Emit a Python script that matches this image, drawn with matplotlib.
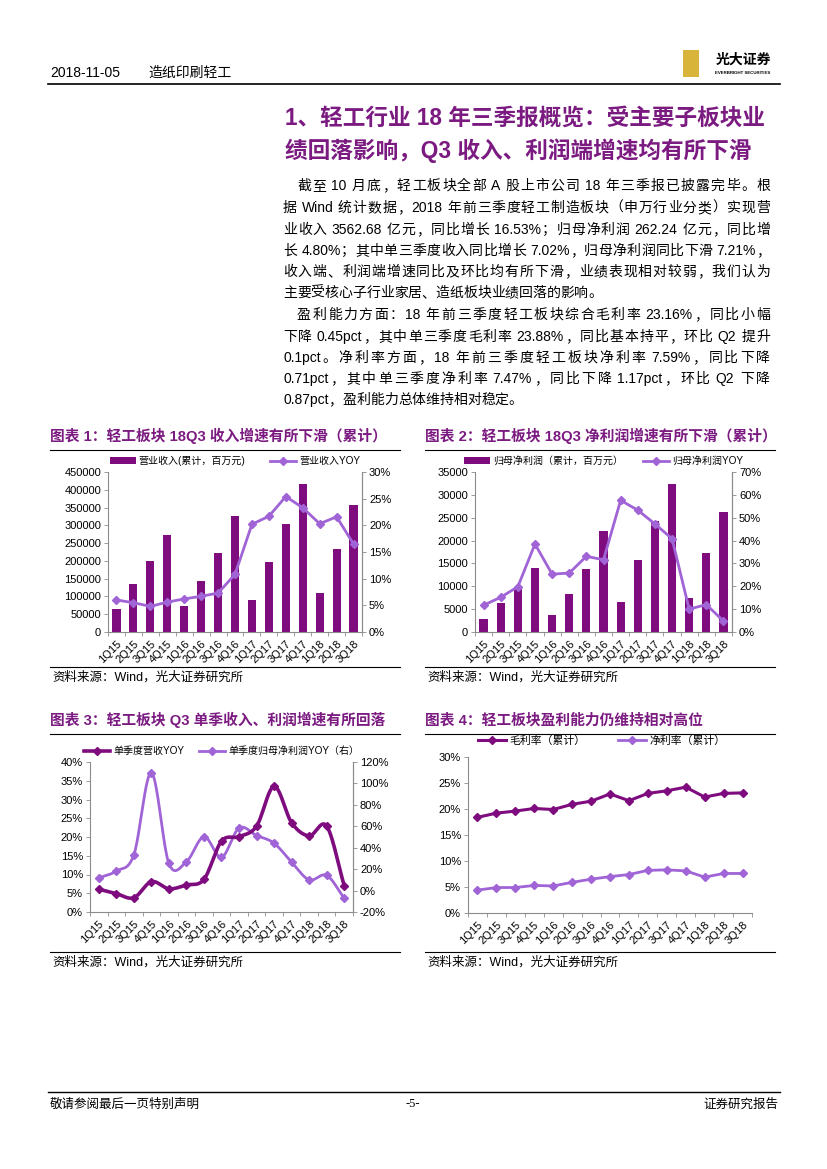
import matplotlib
matplotlib.use('Agg')
import matplotlib.pyplot as plt
import numpy as np
from matplotlib.patches import Rectangle
from matplotlib.lines import Line2D
from matplotlib.ticker import FuncFormatter, MultipleLocator, FixedLocator

plt.rcParams['font.family'] = ['Liberation Sans', 'Noto Sans CJK SC', 'DejaVu Sans']

# ---------------- data ----------------
quarters = ['1Q15', '2Q15', '3Q15', '4Q15', '1Q16', '2Q16', '3Q16', '4Q16',
            '1Q17', '2Q17', '3Q17', '4Q17', '1Q18', '2Q18', '3Q18']

revenue_cum = [65000, 134000, 201000, 274000, 72000, 144000, 221000, 325000,
               91000, 197000, 303000, 415000, 111000, 233000, 356000]
revenue_yoy = [6.0, 5.5, 4.8, 5.6, 6.2, 6.7, 7.3, 10.8,
               20.2, 21.7, 25.4, 23.3, 20.3, 21.6, 16.5]

profit_cum = [2800, 6400, 9600, 13900, 3700, 8300, 13800, 22100,
              6600, 15700, 24300, 32400, 7400, 17300, 26200]
profit_yoy = [11.7, 15.2, 19.8, 38.5, 25.3, 25.8, 33.1, 31.6,
              57.6, 53.3, 47.3, 40.8, 10.0, 12.0, 4.8]

q_rev_yoy = [6.1, 4.9, 3.8, 8.1, 6.2, 7.2, 8.7, 18.9,
             20.1, 22.9, 33.5, 23.8, 20.3, 22.9, 7.0]
q_profit_yoy = [11.8, 18.2, 33.3, 110.0, 25.3, 26.9, 50.3, 31.0,
                58.4, 51.4, 44.2, 26.4, 10.0, 14.2, -7.2]

gross_margin = [18.4, 19.2, 19.6, 20.1, 19.9, 20.9, 21.5, 22.9,
                21.6, 23.0, 23.5, 24.2, 22.3, 23.0, 23.1]
net_margin = [4.4, 4.9, 4.9, 5.3, 5.2, 5.9, 6.5, 7.0,
              7.4, 8.2, 8.3, 8.1, 6.9, 7.6, 7.6]

# ---------------- styles ----------------
W, H = 827, 1169
DARK = '#7E0C7E'
LIGHT = '#A064D6'
TITLE = '#7B1A80'
SPINE = '#8C8C8C'
CJK = ['Noto Sans CJK SC', 'DejaVu Sans']
MIX = ['Liberation Sans', 'Noto Sans CJK SC', 'DejaVu Sans']
TICK = 8

fig = plt.figure(figsize=(W / 100, H / 100), dpi=100)
renderer = fig.canvas.get_renderer()


def fx(x):
    return x / W


def fy(y):
    return 1 - y / H


def txt(x, y, s, **kw):
    kw.setdefault('va', 'center')
    return fig.text(fx(x), fy(y), s, **kw)


def hline(x0, x1, y, lw=0.8, color='black'):
    fig.add_artist(Line2D([fx(x0), fx(x1)], [fy(y), fy(y)], lw=lw, color=color))


def add_ax(x0, y0, x1, y1):
    return fig.add_axes([fx(x0), fy(y1), (x1 - x0) / W, (y1 - y0) / H])


def text_width(s, **kw):
    t = fig.text(0, 0, s, **kw)
    w = t.get_window_extent(renderer).width
    t.remove()
    return w


def tokenize(line):
    toks = []
    cur = ''
    for ch in line:
        if ch == ' ':
            if cur:
                toks.append(cur)
                cur = ''
            toks.append(' ')
        elif ord(ch) < 128:
            cur += ch
        else:
            if cur:
                toks.append(cur)
                cur = ''
            toks.append(ch)
    if cur:
        toks.append(cur)
    return toks


def justified(x0, x1, y, line, justify=True, **kw):
    toks = tokenize(line)
    space_w = text_width('a a', **kw) - text_width('aa', **kw)
    widths = [space_w if t == ' ' else text_width(t, **kw) for t in toks]
    words = [i for i, t in enumerate(toks) if t != ' ']
    total = sum(widths)
    gap = 0.0
    if justify and len(words) > 1:
        gap = (x1 - x0 - total) / (len(words) - 1)
    pos = x0
    for i, (t, w) in enumerate(zip(toks, widths)):
        if t != ' ':
            txt(pos, y, t, ha='left', **kw)
            pos += w + gap
        else:
            pos += w


def style_ax(ax, right=False):
    ax.spines['top'].set_visible(False)
    for s in ['left', 'bottom', 'right']:
        ax.spines[s].set_color(SPINE)
        ax.spines[s].set_linewidth(0.8)
    if not right:
        ax.spines['right'].set_visible(False)
    ax.tick_params(axis='y', direction='out', length=3, width=0.6,
                   color=SPINE, labelsize=TICK, pad=2)
    ax.set_xlim(-0.5, len(quarters) - 0.5)
    ax.set_xticks(range(len(quarters)))
    ax.set_xticklabels(quarters, rotation=45, ha='right', rotation_mode='anchor',
                       fontsize=TICK)
    ax.tick_params(axis='x', which='major', length=0, pad=5)
    ax.xaxis.set_minor_locator(FixedLocator(np.arange(-0.5, len(quarters), 1.0)))
    ax.tick_params(axis='x', which='minor', direction='out', length=3, width=0.6,
                   color=SPINE)


def style_right(axr, lim, step):
    axr.set_ylim(*lim)
    axr.yaxis.set_major_locator(MultipleLocator(step))
    axr.yaxis.set_major_formatter(pct0)
    for s in ['top', 'left', 'bottom']:
        axr.spines[s].set_visible(False)
    axr.spines['right'].set_color(SPINE)
    axr.spines['right'].set_linewidth(0.8)
    axr.tick_params(axis='y', direction='out', length=3, width=0.6, color=SPINE,
                    labelsize=TICK, pad=2)


def catmull(xs, ys, n=24):
    xs = np.asarray(xs, float)
    ys = np.asarray(ys, float)
    P = np.column_stack([xs, ys])
    P = np.vstack([2 * P[0] - P[1], P, 2 * P[-1] - P[-2]])
    out = []
    t = np.linspace(0, 1, n)[:, None]
    for i in range(1, len(P) - 2):
        p0, p1, p2, p3 = P[i - 1], P[i], P[i + 1], P[i + 2]
        seg = 0.5 * ((2 * p1) + (-p0 + p2) * t + (2 * p0 - 5 * p1 + 4 * p2 - p3) * t ** 2
                     + (-p0 + 3 * p1 - 3 * p2 + p3) * t ** 3)
        out.append(seg if i == 1 else seg[1:])
    out = np.vstack(out)
    return out[:, 0], out[:, 1]


pct0 = FuncFormatter(lambda v, p: f'{v:.0f}%')
x = np.arange(len(quarters))

# ---------------- header ----------------
txt(50, 73, '2018-11-05', fontsize=10, family=MIX)
txt(148, 73, '造纸印刷轻工', fontsize=10, family=CJK)
hline(48, 780, 84, lw=1.2)
fig.add_artist(Rectangle((fx(683), fy(77)), 16 / W, 27 / H, transform=fig.transFigure,
                         facecolor='#D9B43A', edgecolor='none'))
txt(743, 60, '光大证券', fontsize=10, family=CJK, weight='bold', ha='center')
txt(743, 73, 'EVERBRIGHT SECURITIES', fontsize=3.2, family=MIX, weight='bold', ha='center')

# ---------------- section title ----------------
txt(285, 118, '1、轻工行业 18 年三季报概览：受主要子板块业', fontsize=16.3,
    family=MIX, weight='bold', color=TITLE)
txt(285, 151, '绩回落影响，Q3 收入、利润端增速均有所下滑', fontsize=16.3,
    family=MIX, weight='bold', color=TITLE)

body = [
    (297, True, '截至 10 月底，轻工板块全部 A 股上市公司 18 年三季报已披露完毕。根'),
    (283, True, '据 Wind 统计数据，2018 年前三季度轻工制造板块（申万行业分类）实现营'),
    (283, True, '业收入 3562.68 亿元，同比增长 16.53%；归母净利润 262.24 亿元，同比增'),
    (283, True, '长 4.80%；其中单三季度收入同比增长 7.02%，归母净利润同比下滑 7.21%，'),
    (283, True, '收入端、利润端增速同比及环比均有所下滑，业绩表现相对较弱，我们认为'),
    (283, False, '主要受核心子行业家居、造纸板块业绩回落的影响。'),
    (297, True, '盈利能力方面：18 年前三季度轻工板块综合毛利率 23.16%，同比小幅'),
    (283, True, '下降 0.45pct，其中单三季度毛利率 23.88%，同比基本持平，环比 Q2 提升'),
    (283, True, '0.1pct。净利率方面，18 年前三季度轻工板块净利率 7.59%，同比下降'),
    (283, True, '0.71pct，其中单三季度净利率 7.47%，同比下降 1.17pct，环比 Q2 下降'),
    (283, False, '0.87pct，盈利能力总体维持相对稳定。'),
]
body_y = [186, 208, 230, 251, 272, 293, 315, 337, 358, 379, 400]
for (bx, just, line), by in zip(body, body_y):
    justified(bx, 770, by, line, justify=just, fontsize=10, family=MIX)


# ---------------- chart titles / sources ----------------
def chart_frame(x0, x1, ytitle, ysrc, title):
    txt(x0, ytitle, title, fontsize=10.6, family=MIX, weight='bold', color=TITLE)
    hline(x0, x1, ytitle + 14, lw=0.8)
    hline(x0, x1, ysrc, lw=0.8)
    txt(x0 + 2, ysrc + 10, '资料来源：Wind，光大证券研究所', fontsize=9, family=MIX)


chart_frame(50, 400, 436, 667, '图表 1：轻工板块 18Q3 收入增速有所下滑（累计）')
chart_frame(425, 775, 436, 667, '图表 2：轻工板块 18Q3 净利润增速有所下滑（累计）')
chart_frame(50, 400, 720, 952, '图表 3：轻工板块 Q3 单季收入、利润增速有所回落')
chart_frame(425, 775, 720, 952, '图表 4：轻工板块盈利能力仍维持相对高位')


def legend(ax, handles, labels, anchor=(0.5, 1.0), colsp=2.5, size=7.2):
    ax.legend(handles, labels, loc='lower center', bbox_to_anchor=anchor, ncol=2,
              frameon=False, prop={'family': MIX, 'size': size}, handlelength=2.6,
              columnspacing=colsp, handletextpad=0.3, borderaxespad=0.2)


# ---------------- chart 1 ----------------
ax1 = add_ax(108, 472, 362, 632)
style_ax(ax1, right=True)
b = ax1.bar(x, revenue_cum, width=0.48, color=DARK)
ax1.set_ylim(0, 450000)
ax1.yaxis.set_major_locator(MultipleLocator(50000))
ax1.yaxis.set_major_formatter(FuncFormatter(lambda v, p: f'{v:.0f}'))
ax1r = ax1.twinx()
style_right(ax1r, (0, 30), 5)
l1, = ax1r.plot(x, revenue_yoy, color=LIGHT, lw=2, marker='D', ms=4)
legend(ax1, [b, l1], ['营业收入(累计，百万元)', '营业收入YOY'])

# ---------------- chart 2 ----------------
ax2 = add_ax(475, 472, 732, 632)
style_ax(ax2, right=True)
b2 = ax2.bar(x, profit_cum, width=0.48, color=DARK)
ax2.set_ylim(0, 35000)
ax2.yaxis.set_major_locator(MultipleLocator(5000))
ax2.yaxis.set_major_formatter(FuncFormatter(lambda v, p: f'{v:.0f}'))
ax2r = ax2.twinx()
style_right(ax2r, (0, 70), 10)
l2, = ax2r.plot(x, profit_yoy, color=LIGHT, lw=2, marker='D', ms=4)
legend(ax2, [b2, l2], ['归母净利润（累计，百万元）', '归母净利润YOY'], colsp=2.0)

# ---------------- chart 3 ----------------
ax3 = add_ax(90, 762, 353, 912)
style_ax(ax3, right=True)
ax3.set_ylim(0, 40)
ax3.yaxis.set_major_locator(MultipleLocator(5))
ax3.yaxis.set_major_formatter(pct0)
ax3r = ax3.twinx()
style_right(ax3r, (-20, 120), 20)
sx, sy = catmull(x, q_profit_yoy)
ax3r.plot(sx, sy, color=LIGHT, lw=2)
ax3r.plot(x, q_profit_yoy, ls='none', color=LIGHT, marker='D', ms=4)
sx, sy = catmull(x, q_rev_yoy)
ax3.set_zorder(ax3r.get_zorder() + 1)
ax3.patch.set_visible(False)
ax3.plot(sx, sy, color=DARK, lw=2.6)
ax3.plot(x, q_rev_yoy, ls='none', color=DARK, marker='D', ms=4)
h3a = Line2D([], [], color=DARK, lw=2.6, marker='D', ms=4)
h3b = Line2D([], [], color=LIGHT, lw=2, marker='D', ms=4)
legend(ax3, [h3a, h3b], ['单季度营收YOY', '单季度归母净利润YOY（右）'], colsp=1.5)

# ---------------- chart 4 ----------------
ax4 = add_ax(468, 757, 752, 913)
style_ax(ax4, right=False)
ax4.spines['bottom'].set_bounds(-0.5, len(quarters) - 0.5)
ax4.set_ylim(0, 30)
ax4.yaxis.set_major_locator(MultipleLocator(5))
ax4.yaxis.set_major_formatter(pct0)
h4a, = ax4.plot(x, gross_margin, color=DARK, lw=2.2, marker='D', ms=4)
h4b, = ax4.plot(x, net_margin, color=LIGHT, lw=2, marker='D', ms=4)
legend(ax4, [h4a, h4b], ['毛利率（累计）', '净利率（累计）'], anchor=(0.47, 1.03),
       colsp=3, size=7.8)

# ---------------- footer ----------------
hline(48, 780, 1092, lw=1.0)
txt(50, 1104, '敬请参阅最后一页特别声明', fontsize=9, family=CJK)
txt(413, 1104, '-5-', fontsize=9, family=['Liberation Serif', 'DejaVu Serif'], ha='center')
txt(778, 1104, '证券研究报告', fontsize=9, family=CJK, ha='right')

fig.savefig('out.png', dpi=100)
